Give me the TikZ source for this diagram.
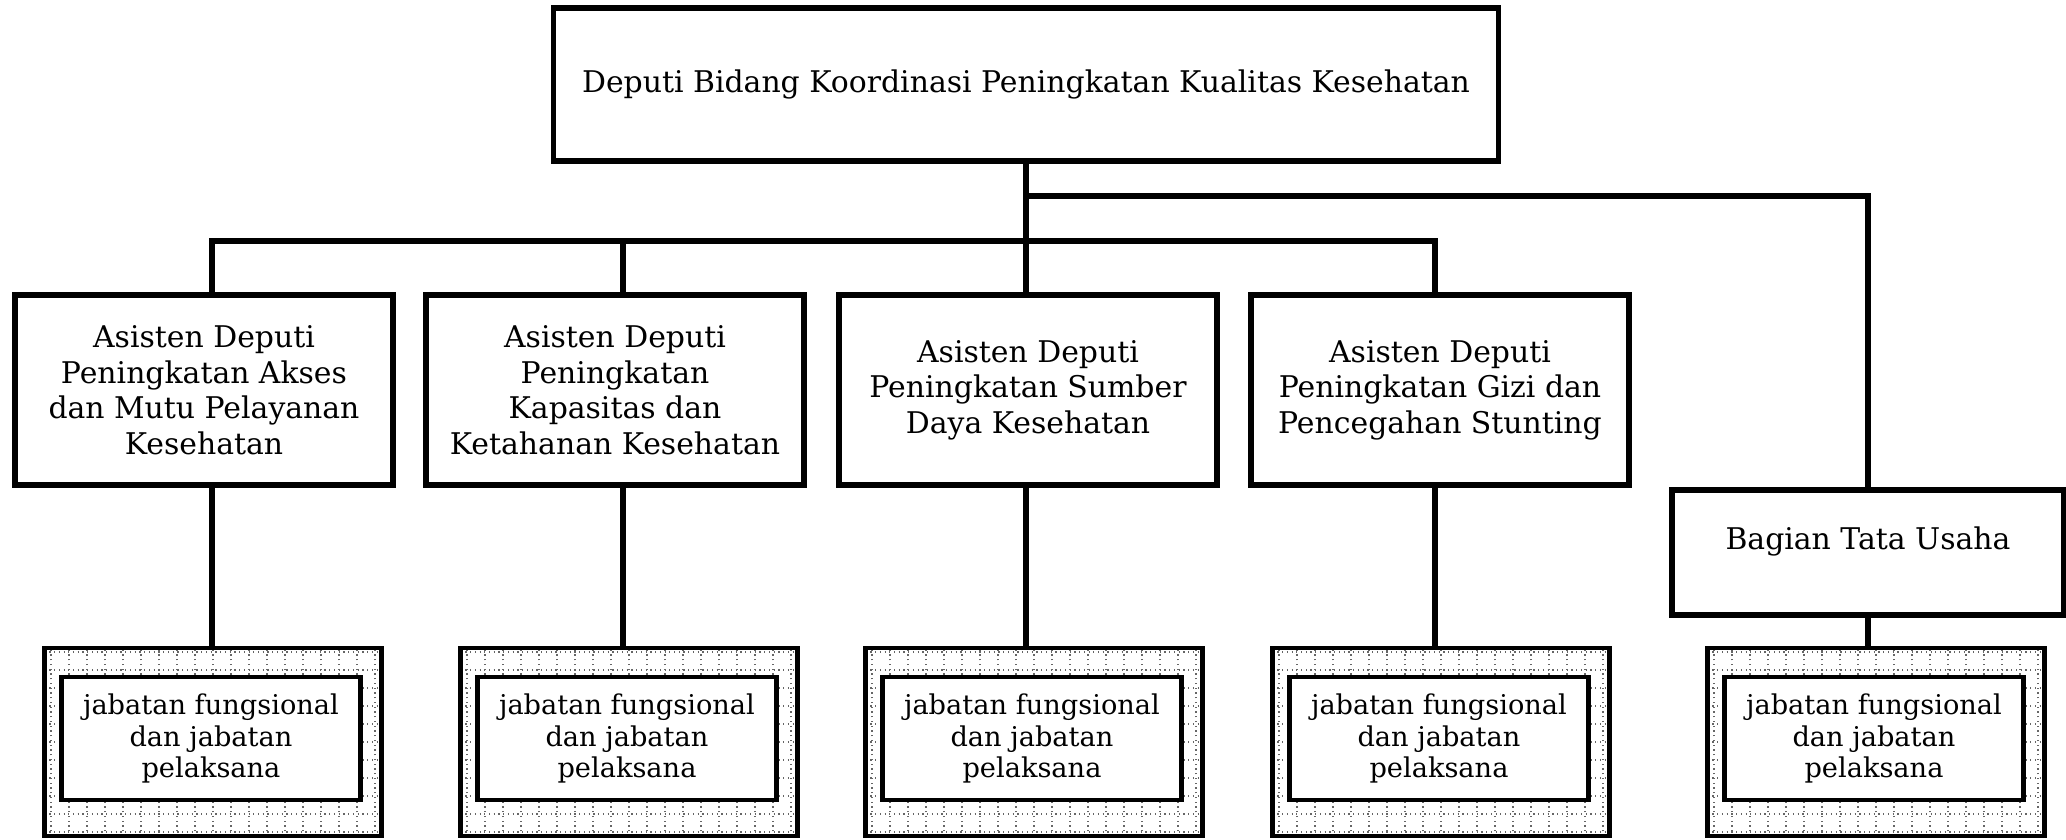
\documentclass[tikz,border=0pt]{standalone}
\usepackage{fontspec}
\setmainfont{DejaVu Serif}
\usepackage{tikz}

\begin{document}
\begin{tikzpicture}[
  x=0.02cm, y=-0.02cm,
  unit/.style={draw, line width=3pt, align=center, inner sep=2pt,
    font=\fontsize{17}{20.2}\selectfont},
  deputy/.style={unit, minimum width=18.9cm, minimum height=3.06cm},
  asdep/.style={unit, minimum width=7.56cm, minimum height=3.8cm},
  tubox/.style={unit, minimum width=7.84cm, minimum height=2.5cm, text depth=0.58cm},
  grid box/.style={draw, line width=2.4pt, minimum width=6.74cm, minimum height=3.76cm,
    path picture={\draw[gray!80!black, dotted, line width=0.7pt, step=0.36cm]
      (path picture bounding box.south west) grid (path picture bounding box.north east);}},
  jfbox/.style={draw, fill=white, line width=2.8pt, align=center, inner sep=2pt,
    minimum width=5.98cm, minimum height=2.46cm,
    font=\fontsize{15.5}{18}\selectfont},
  conn/.style={line width=3.1pt}
]
\useasboundingbox (0,0) rectangle (2066,839);

\node[deputy] (top) at (1026, 84.5) {Deputi Bidang Koordinasi Peningkatan Kualitas Kesehatan};

\node[asdep] (A1) at (204, 390) {Asisten Deputi\\Peningkatan Akses\\dan Mutu Pelayanan\\Kesehatan};
\node[asdep] (A2) at (615, 390) {Asisten Deputi\\Peningkatan\\Kapasitas dan\\Ketahanan Kesehatan};
\node[asdep] (A3) at (1028, 390) {Asisten Deputi\\Peningkatan Sumber\\Daya Kesehatan};
\node[asdep] (A4) at (1440, 390) {Asisten Deputi\\Peningkatan Gizi dan\\Pencegahan Stunting};
\node[tubox] (tu) at (1868, 552.5) {Bagian Tata Usaha};

\foreach \i/\x in {1/213, 2/629, 3/1034, 4/1441, 5/1876} {
  \node[grid box] (H\i) at (\x, 742) {};
  \node[jfbox] (J\i) at (\x-2, 738.5) {jabatan fungsional\\dan jabatan\\pelaksana};
}

% column lines
\coordinate (c1) at (212, 241);
\coordinate (c2) at (623, 241);
\coordinate (c3) at (1026, 241);
\coordinate (c4) at (1435, 241);
\coordinate (c5) at (1868, 196);
\coordinate (fork) at (1026, 196);

\draw[conn] (top.south) -- (A3.north -| c3);
\draw[conn] (A1.north -| c1) |- (c4) -- (A4.north -| c4);
\draw[conn] (c2) -- (A2.north -| c2);
\draw[conn] (fork) -- (c5) -- (tu.north);

\foreach \i in {1,...,4} {
  \draw[conn] (A\i.south -| c\i) -- (H\i.north -| c\i);
}
\draw[conn] (tu.south) -- (H5.north -| tu.south);

\end{tikzpicture}
\end{document}
